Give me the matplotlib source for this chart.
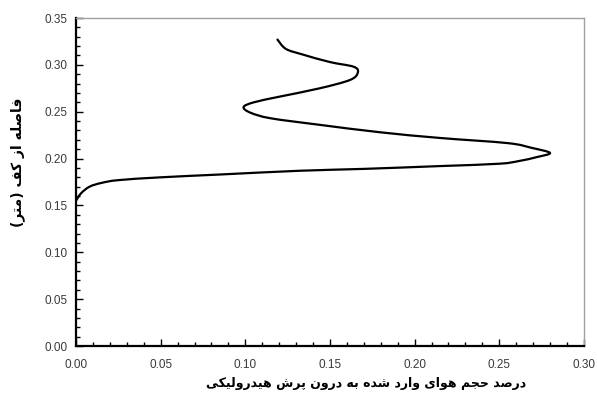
import matplotlib
matplotlib.use("Agg")
import matplotlib.pyplot as plt
import numpy as np
from matplotlib.path import Path
from matplotlib.patches import PathPatch
from matplotlib.ticker import MultipleLocator, FormatStrFormatter

# air volume fraction (x) against height above bed (y)
air_fraction = [0.000, 0.003, 0.008, 0.015, 0.025, 0.050, 0.085, 0.132, 0.170,
                0.215, 0.250, 0.262, 0.272, 0.280, 0.269, 0.255, 0.215, 0.180,
                0.144, 0.115, 0.103, 0.099, 0.105, 0.120, 0.144, 0.162, 0.1665,
                0.164, 0.150, 0.134, 0.124, 0.119]
height = [0.155, 0.163, 0.170, 0.174, 0.177, 0.180, 0.183, 0.187, 0.189,
          0.192, 0.1945, 0.1975, 0.2015, 0.206, 0.2115, 0.2165, 0.222, 0.228,
          0.236, 0.243, 0.249, 0.255, 0.260, 0.266, 0.275, 0.284, 0.292,
          0.298, 0.303, 0.311, 0.317, 0.327]

x_label = "درصد حجم هوای وارد شده به درون پرش هیدرولیکی"
y_label = "فاصله از کف (متر)"

# minimal arabic/persian shaping: (isolated, final, initial, medial)
FORMS = {
    "ا": (0xFE8D, 0xFE8E, None, None),
    "ب": (0xFE8F, 0xFE90, 0xFE91, 0xFE92),
    "پ": (0xFB56, 0xFB57, 0xFB58, 0xFB59),
    "ت": (0xFE95, 0xFE96, 0xFE97, 0xFE98),
    "ج": (0xFE9D, 0xFE9E, 0xFE9F, 0xFEA0),
    "ح": (0xFEA1, 0xFEA2, 0xFEA3, 0xFEA4),
    "د": (0xFEA9, 0xFEAA, None, None),
    "ر": (0xFEAD, 0xFEAE, None, None),
    "ز": (0xFEAF, 0xFEB0, None, None),
    "ش": (0xFEB5, 0xFEB6, 0xFEB7, 0xFEB8),
    "ص": (0xFEB9, 0xFEBA, 0xFEBB, 0xFEBC),
    "ف": (0xFED1, 0xFED2, 0xFED3, 0xFED4),
    "ل": (0xFEDD, 0xFEDE, 0xFEDF, 0xFEE0),
    "م": (0xFEE1, 0xFEE2, 0xFEE3, 0xFEE4),
    "ن": (0xFEE5, 0xFEE6, 0xFEE7, 0xFEE8),
    "ه": (0xFEE9, 0xFEEA, 0xFEEB, 0xFEEC),
    "و": (0xFEED, 0xFEEE, None, None),
    "ی": (0xFBFC, 0xFBFD, 0xFBFE, 0xFBFF),
    "ک": (0xFB8E, 0xFB8F, 0xFB90, 0xFB91),
}
MIRROR = {"(": ")", ")": "("}


def shape(text):
    out = []
    for i, ch in enumerate(text):
        if ch not in FORMS:
            out.append(MIRROR.get(ch, ch))
            continue
        iso, fin, ini, med = FORMS[ch]
        prev = text[i - 1] if i > 0 else ""
        nxt = text[i + 1] if i + 1 < len(text) else ""
        join_prev = prev in FORMS and FORMS[prev][2] is not None
        join_next = ini is not None and nxt in FORMS
        if join_prev and join_next:
            code = med
        elif join_prev:
            code = fin
        elif join_next:
            code = ini
        else:
            code = iso
        out.append(chr(code))
    return "".join(reversed(out))


def smooth_path(ax, xs, ys):
    # catmull-rom through the points, drawn as cubic bezier segments in display space
    pts = ax.transData.transform(np.column_stack([xs, ys]))
    verts = [pts[0]]
    codes = [Path.MOVETO]
    n = len(pts)
    for i in range(n - 1):
        p0 = pts[max(i - 1, 0)]
        p1 = pts[i]
        p2 = pts[i + 1]
        p3 = pts[min(i + 2, n - 1)]
        c1 = p1 + (p2 - p0) / 6.0
        c2 = p2 - (p3 - p1) / 6.0
        verts += [c1, c2, p2]
        codes += [Path.CURVE4] * 3
    return Path(verts, codes)


plt.rcParams["font.family"] = ["Liberation Sans", "DejaVu Sans"]

fig = plt.figure(figsize=(5.97, 3.94), dpi=100)
ax = fig.add_axes([0.1273, 0.1218, 0.8507, 0.8325])

ax.set_xlim(0, 0.30)
ax.set_ylim(0, 0.35)

path = smooth_path(ax, air_fraction, height)
ax.add_patch(PathPatch(path, transform=None, facecolor="none", edgecolor="black",
                       lw=1.6, capstyle="round", joinstyle="round", clip_on=False))
# invisible line keeps the data registered on the axes
ax.plot(air_fraction, height, alpha=0)

ax.xaxis.set_major_locator(MultipleLocator(0.05))
ax.xaxis.set_minor_locator(MultipleLocator(0.01))
ax.yaxis.set_major_locator(MultipleLocator(0.05))
ax.yaxis.set_minor_locator(MultipleLocator(0.01))
ax.xaxis.set_major_formatter(FormatStrFormatter("%.2f"))
ax.yaxis.set_major_formatter(FormatStrFormatter("%.2f"))

ax.tick_params(which="both", direction="in", colors="black", labelcolor="#3a3a3a",
               labelsize=8.5)
ax.tick_params(which="major", length=5, width=1)
ax.tick_params(which="minor", length=3, width=1)
ax.tick_params(axis="x", pad=9)
ax.tick_params(axis="y", pad=6)

for side in ["left", "bottom"]:
    ax.spines[side].set_linewidth(1.6)
    ax.spines[side].set_color("black")
for side in ["top", "right"]:
    ax.spines[side].set_linewidth(1.0)
    ax.spines[side].set_color("#a0a0a0")

fig.text(366 / 597, 1 - 384 / 394, shape(x_label), family=["DejaVu Sans"],
         fontsize=9, fontweight="bold", ha="center", va="center")
fig.text(18 / 597, 1 - 162 / 394, shape(y_label), family=["DejaVu Sans"],
         fontsize=10, fontweight="bold", ha="center", va="center", rotation=90)

fig.savefig("out.png", dpi=100)
